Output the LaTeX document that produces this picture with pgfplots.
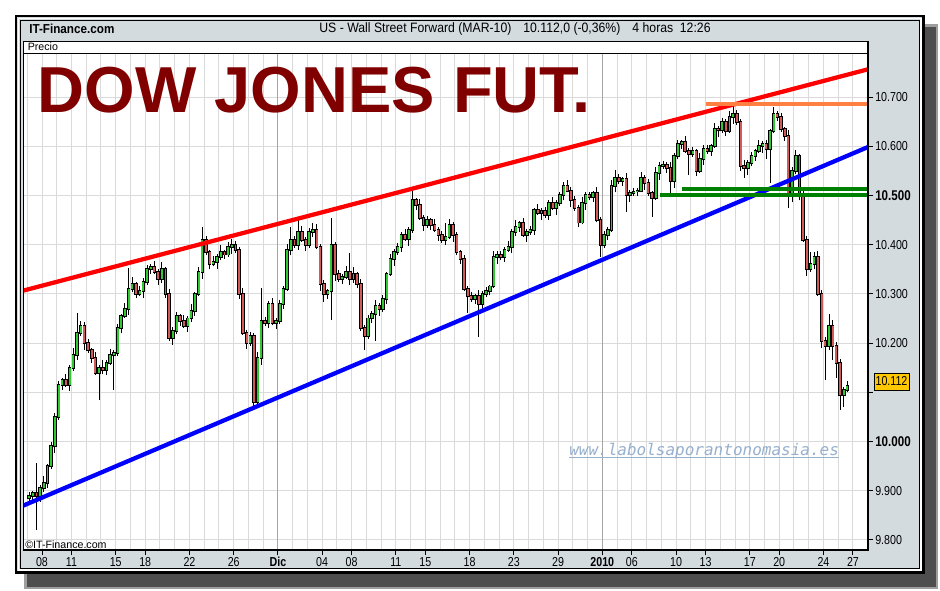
\documentclass[border=0pt]{standalone}
\usepackage{pgfplots}
\pgfplotsset{compat=1.18}
\usepackage{pgfplotstable}
\usepackage{fontspec}
\setmainfont{Liberation Sans}
\newfontfamily\narrowfont{Liberation Sans}[FakeStretch=0.82]
\newfontfamily\widenarrow{Liberation Sans}[FakeStretch=0.9]
\newfontfamily\wmfont{DejaVu Sans Mono}
\definecolor{framegray}{RGB}{211,219,223}
\definecolor{shadowgray}{RGB}{78,78,78}
\definecolor{gridgray}{RGB}{218,218,218}
\definecolor{monthgray}{RGB}{165,165,165}
\definecolor{upgreen}{RGB}{50,200,50}
\definecolor{downred}{RGB}{210,90,90}
\definecolor{titlered}{RGB}{128,0,0}
\definecolor{wmblue}{RGB}{150,176,206}
\definecolor{boxyellow}{RGB}{255,200,0}
\definecolor{lineorange}{RGB}{255,128,64}
\definecolor{linegreen}{RGB}{0,128,0}

\pgfplotstableread{
x o h l c
-0.875 9885 9898 9879 9890
-0.625 9890 9900 9880 9895
-0.375 9895 9956 9820 9890
-0.125 9890 9911 9878 9905
0.125 9905 9930 9898 9915
0.375 9915 9954 9906 9950
0.625 9950 10000 9945 9990
0.875 9990 10057 9976 10050
1.125 10050 10123 10044 10115
1.375 10115 10130 10105 10125
1.625 10125 10137 10111 10115
1.875 10115 10156 10103 10150
2.125 10150 10190 10143 10175
2.375 10175 10262 10166 10220
2.625 10220 10245 10215 10235
2.875 10235 10242 10186 10200
3.125 10200 10208 10179 10185
3.375 10185 10190 10160 10170
3.625 10170 10182 10136 10140
3.875 10140 10156 10085 10150
4.125 10150 10165 10138 10145
4.375 10145 10165 10135 10160
4.625 10160 10187 10156 10175
4.875 10175 10186 10105 10180
5.125 10180 10238 10174 10230
5.375 10230 10260 10220 10255
5.625 10255 10282 10251 10270
5.875 10270 10352 10258 10310
6.125 10310 10335 10303 10320
6.375 10320 10324 10291 10300
6.625 10300 10315 10295 10305
6.875 10305 10332 10291 10325
7.125 10325 10358 10319 10350
7.375 10350 10360 10340 10355
7.625 10355 10367 10341 10345
7.875 10345 10351 10318 10330
8.125 10330 10365 10323 10350
8.375 10350 10354 10291 10300
8.625 10300 10310 10205 10210
8.875 10210 10232 10196 10225
9.125 10225 10263 10219 10255
9.375 10255 10260 10235 10245
9.625 10245 10257 10231 10235
9.875 10235 10256 10223 10250
10.125 10250 10280 10243 10265
10.375 10265 10304 10256 10300
10.625 10300 10355 10295 10345
10.875 10345 10435 10331 10410
11.125 10410 10418 10379 10385
11.375 10385 10390 10350 10360
11.625 10360 10377 10356 10365
11.875 10365 10381 10351 10375
12.125 10375 10400 10368 10385
12.375 10385 10389 10371 10380
12.625 10380 10405 10375 10395
12.875 10395 10412 10381 10400
13.125 10400 10408 10384 10390
13.375 10390 10395 10290 10300
13.625 10300 10312 10216 10220
13.875 10220 10226 10188 10200
14.125 10200 10223 10194 10215
14.375 10215 10220 10072 10080
14.625 10080 10182 10076 10170
14.875 10170 10312 10156 10245
15.125 10245 10253 10234 10240
15.375 10240 10285 10230 10280
15.625 10280 10292 10236 10240
15.875 10240 10251 10228 10245
16.125 10245 10288 10239 10280
16.375 10280 10315 10270 10310
16.625 10310 10402 10306 10390
16.875 10390 10436 10378 10410
17.125 10410 10418 10394 10400
17.375 10400 10450 10390 10425
17.625 10425 10437 10406 10410
17.875 10410 10416 10388 10400
18.125 10400 10433 10394 10425
18.375 10425 10444 10415 10430
18.625 10430 10442 10391 10395
18.875 10395 10401 10306 10320
19.125 10320 10328 10283 10300
19.375 10300 10310 10290 10305
19.625 10305 10455 10247 10400
19.875 10400 10406 10326 10340
20.125 10340 10348 10324 10330
20.375 10330 10340 10320 10335
20.625 10335 10357 10331 10345
20.875 10345 10383 10318 10330
21.125 10330 10355 10323 10340
21.375 10340 10344 10311 10320
21.625 10320 10330 10225 10230
21.875 10230 10237 10186 10215
22.125 10215 10258 10209 10250
22.375 10250 10265 10240 10260
22.625 10260 10287 10205 10275
22.875 10275 10282 10256 10270
23.125 10270 10298 10264 10290
23.375 10290 10345 10280 10340
23.625 10340 10382 10336 10370
23.875 10370 10392 10356 10385
24.125 10385 10403 10379 10395
24.375 10395 10425 10385 10420
24.625 10420 10432 10408 10412
24.875 10412 10436 10398 10430
25.125 10430 10511 10424 10490
25.375 10490 10495 10470 10480
25.625 10480 10492 10451 10455
25.875 10455 10461 10428 10440
26.125 10440 10458 10434 10450
26.375 10450 10455 10430 10440
26.625 10440 10452 10426 10430
26.875 10430 10436 10408 10420
27.125 10420 10428 10404 10410
27.375 10410 10445 10400 10415
27.625 10415 10452 10411 10440
27.875 10440 10446 10406 10420
28.125 10420 10425 10379 10385
28.375 10385 10390 10360 10370
28.625 10370 10378 10306 10310
28.875 10310 10316 10261 10295
29.125 10295 10303 10284 10290
29.375 10290 10300 10280 10295
29.625 10295 10307 10212 10280
29.875 10280 10306 10266 10300
30.125 10300 10314 10294 10306
30.375 10306 10319 10297 10315
30.625 10315 10387 10311 10375
30.875 10375 10387 10361 10380
31.125 10380 10388 10369 10375
31.375 10375 10395 10365 10390
31.625 10390 10407 10386 10395
31.875 10395 10431 10383 10425
32.125 10425 10450 10418 10435
32.375 10435 10449 10426 10445
32.625 10445 10455 10416 10420
32.875 10420 10432 10406 10425
33.125 10425 10438 10419 10430
33.375 10430 10475 10420 10470
33.625 10470 10482 10461 10465
33.875 10465 10474 10451 10468
34.125 10468 10476 10454 10460
34.375 10460 10490 10450 10485
34.625 10485 10497 10471 10475
34.875 10475 10491 10461 10485
35.125 10485 10508 10479 10500
35.375 10500 10527 10490 10520
35.625 10520 10532 10506 10510
35.875 10510 10517 10476 10490
36.125 10490 10498 10469 10475
36.375 10475 10480 10435 10445
36.625 10445 10497 10441 10485
36.875 10485 10507 10471 10500
37.125 10500 10508 10490 10496
37.375 10496 10510 10486 10505
37.625 10505 10517 10446 10450
37.875 10450 10456 10375 10400
38.125 10400 10428 10394 10420
38.375 10420 10435 10410 10430
38.625 10430 10532 10426 10520
38.875 10520 10552 10506 10535
39.125 10535 10543 10524 10530
39.375 10530 10538 10520 10533
39.625 10533 10545 10466 10500
39.875 10500 10512 10486 10505
40.125 10505 10516 10499 10508
40.375 10508 10515 10498 10510
40.625 10510 10547 10506 10535
40.875 10535 10542 10511 10525
41.125 10525 10533 10499 10505
41.375 10505 10510 10456 10495
41.625 10495 10557 10491 10545
41.875 10545 10567 10531 10560
42.125 10560 10570 10554 10562
42.375 10562 10567 10545 10555
42.625 10555 10567 10505 10530
42.875 10530 10586 10516 10580
43.125 10580 10613 10574 10605
43.375 10605 10613 10595 10608
43.625 10608 10620 10586 10590
43.875 10590 10597 10542 10585
44.125 10585 10598 10579 10590
44.375 10590 10595 10540 10550
44.625 10550 10587 10546 10575
44.875 10575 10602 10561 10595
45.125 10595 10603 10584 10590
45.375 10590 10605 10580 10600
45.625 10600 10647 10596 10635
45.875 10635 10642 10618 10632
46.125 10632 10658 10626 10650
46.375 10650 10655 10620 10630
46.625 10630 10672 10626 10660
46.875 10660 10686 10646 10665
47.125 10665 10673 10644 10650
47.375 10650 10655 10550 10560
47.625 10560 10572 10535 10555
47.875 10555 10572 10541 10565
48.125 10565 10588 10559 10580
48.375 10580 10595 10570 10590
48.625 10590 10612 10586 10600
48.875 10600 10611 10586 10605
49.125 10605 10613 10575 10595
49.375 10595 10635 10525 10630
49.625 10630 10680 10626 10665
49.875 10665 10672 10651 10660
50.125 10660 10668 10629 10635
50.375 10635 10640 10611 10620
50.625 10620 10632 10475 10500
50.875 10500 10557 10486 10550
51.125 10550 10592 10544 10580
51.375 10580 10585 10490 10500
51.625 10500 10512 10406 10410
51.875 10410 10417 10336 10350
52.125 10350 10385 10344 10360
52.375 10360 10385 10350 10375
52.625 10375 10387 10296 10300
52.875 10300 10307 10191 10205
53.125 10205 10213 10125 10195
53.375 10195 10260 10185 10235
53.625 10235 10247 10165 10195
53.875 10195 10202 10130 10160
54.125 10160 10168 10064 10095
54.375 10095 10110 10070 10105
54.625 10105 10124 10100 10112
}\candles

\pgfplotsset{
  candlepart/.style={only marks, mark size=0pt, mark options={draw opacity=0, fill opacity=0}, forget plot},
}

\begin{document}
\begin{tikzpicture}
\begin{scope}[x=0.75pt,y=-0.75pt]
 \fill[white] (0,0) rectangle (940,590);
 \fill[shadowgray!55] (24,24) rectangle (938,589);
 \fill[shadowgray] (27,27) rectangle (936,586.5);
 \fill[framegray] (16,16) rectangle (923.5,572.5);
 \draw[line width=1.9pt] (16,16) rectangle (923.5,572.5);
 \draw[white, line width=1.1pt] (18.4,18.4) rectangle (921.1,570.1);
 \draw[line width=0.75pt] (20,20) rectangle (919.5,568.5);
 \fill[white] (23,41) rectangle (868,550);
\end{scope}

\begin{axis}[
  at={(17.25pt,-412.5pt)}, anchor=south west,
  scale only axis, width=633.75pt, height=372.75pt,
  xmin=-1.2886, xmax=56.019, ymin=9779.6, ymax=10789.4,
  scaled y ticks=false, scaled x ticks=false,
  axis line style={black, line width=0.75pt},
  tick align=outside,
  xtick pos=bottom, ytick pos=right,
  yticklabel pos=right,
  major tick length=3.75pt,
  tick style={black, line width=0.75pt},
  xtick={0,2,5,7,10,13,16,19,21,24,26,29,32,35,38,40,43,45,48,50,53,55},
  xticklabels={08,11,15,18,22,26,\textbf{Dic},04,08,11,15,18,23,29,\textbf{2010},06,10,13,17,20,24,27},
  ytick={9800,9900,10000,10100,10200,10300,10400,10500,10600,10700},
  yticklabels={9.800,9.900,{\bfseries\fontsize{10.6}{12}\selectfont 10.000},{},10.200,10.300,10.400,{\bfseries\fontsize{10.6}{12}\selectfont 10.500},10.600,10.700},
  minor xtick={-1,0,...,56},
  minor tick length=0pt,
  xmajorgrids, xminorgrids, ymajorgrids,
  grid style={gridgray, line width=0.75pt},
  extra x ticks={16,38}, extra x tick labels={},
  extra x tick style={grid=major, major grid style={monthgray, line width=0.75pt}, major tick length=0pt},
  ticklabel style={font=\narrowfont\fontsize{9.75}{11}\selectfont, inner sep=1.5pt},
]
% wicks
\addplot[candlepart,
  error bars/.cd, y dir=plus, y explicit, error mark=none,
  error bar style={black, line width=0.75pt}]
  table[x=x, y=l, y error expr=\thisrow{h}-\thisrow{l}] {\candles};
% body outlines
\addplot[candlepart,
  error bars/.cd, y dir=plus, y explicit, error mark=none,
  error bar style={black, line width=2.65pt}]
  table[x=x, y expr={min(\thisrow{o},\thisrow{c})-2}, y error expr={abs(\thisrow{c}-\thisrow{o})+4}] {\candles};
% up bodies
\addplot[candlepart,
  restrict expr to domain={\thisrow{c}-\thisrow{o}}{0.5:5000},
  error bars/.cd, y dir=plus, y explicit, error mark=none,
  error bar style={upgreen, line width=1.45pt}]
  table[x=x, y=o, y error expr=\thisrow{c}-\thisrow{o}] {\candles};
% down bodies
\addplot[candlepart,
  restrict expr to domain={\thisrow{o}-\thisrow{c}}{0.5:5000},
  error bars/.cd, y dir=plus, y explicit, error mark=none,
  error bar style={downred, line width=1.45pt}]
  table[x=x, y=c, y error expr=\thisrow{o}-\thisrow{c}] {\candles};
% trend lines
\addplot[red, line width=3.2pt, forget plot] coordinates {(-1.2886,10306.5) (56.019,10756.3)};
\addplot[blue, line width=3.2pt, forget plot] coordinates {(-1.2886,9869.6) (56.019,10598.4)};
\addplot[lineorange, line width=3pt, forget plot] coordinates {(45.03,10686) (56.019,10686)};
\addplot[linegreen, line width=2.6pt, forget plot] coordinates {(43.40,10513) (56.019,10513)};
\addplot[linegreen, line width=2.6pt, forget plot] coordinates {(41.91,10501) (56.019,10501)};
\end{axis}

\begin{scope}[x=0.75pt,y=-0.75pt]
 \fill[white] (23,41) rectangle (868,53);
 \draw[line width=0.75pt] (23,53) -- (868,53);
 \draw[line width=0.75pt] (23,41) rectangle (868,550);
 \draw[line width=1.6pt] (868,41) -- (868,551);
 \draw[line width=1.6pt] (22.5,550) -- (869,550);
 \node[anchor=west, inner sep=0, font=\fontsize{8}{9}\selectfont] at (27.5,47) {Precio};
 \node[anchor=west, inner sep=0, font=\fontsize{8}{9}\selectfont] at (25,544.5) {\textcopyright IT-Finance.com};
 \node[anchor=west, inner sep=0, font=\widenarrow\bfseries\fontsize{9.75}{11}\selectfont] at (29,28.5) {IT-Finance.com};
 \node[anchor=center, inner sep=0, font=\widenarrow\fontsize{10.2}{12}\selectfont] at (515,28.5) {US - Wall Street Forward (MAR-10)\hspace{9pt}10.112,0 (-0,36\%)\hspace{9pt}4 horas\hspace{5pt}12:26};
 \node[anchor=base west, inner sep=0, text=titlered, font=\bfseries\fontsize{48.75}{50}\selectfont] at (37.5,112.7) {DOW JONES FUT.};
 \node[anchor=base west, inner sep=0, text=wmblue, font=\wmfont\itshape\fontsize{12}{14}\selectfont] at (569,455) {www.labolsaporantonomasia.es};
 \draw[wmblue, line width=0.75pt] (569,457.5) -- (839,457.5);
 \node[draw=black, line width=0.75pt, fill=boxyellow, inner sep=0, minimum width=26.25pt, minimum height=12.75pt, font=\narrowfont\fontsize{9.75}{11}\selectfont] at (891.5,381.5) {10.112};
\end{scope}
\end{tikzpicture}
\end{document}
